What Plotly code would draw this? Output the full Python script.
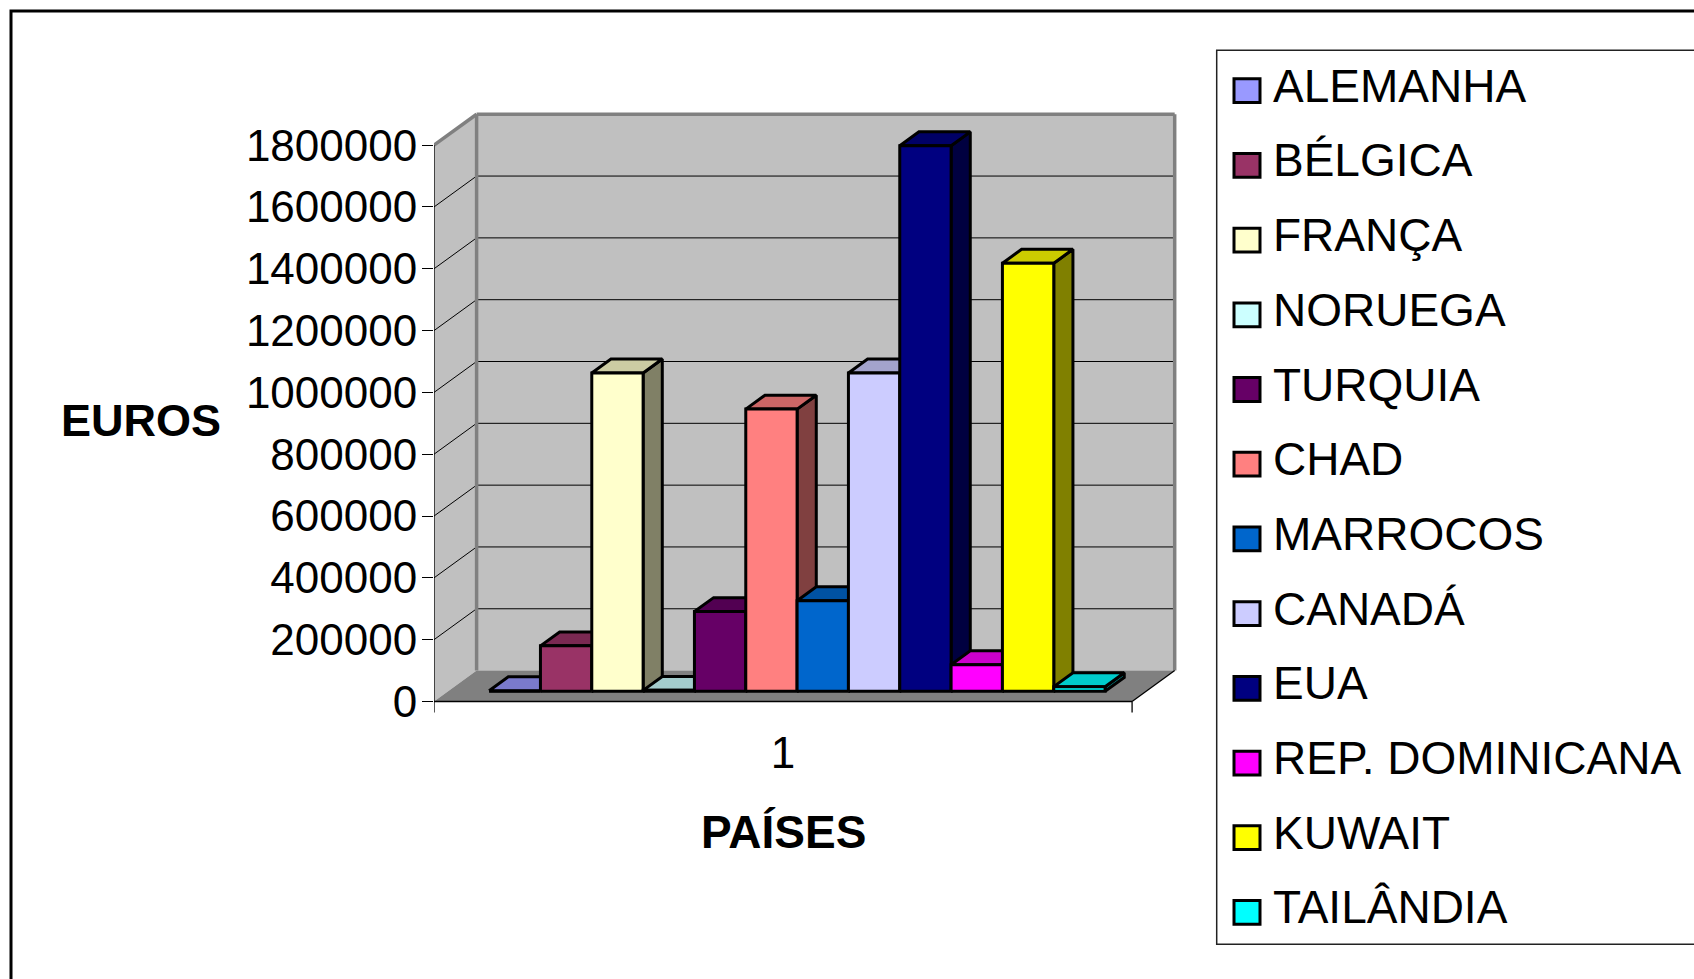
import plotly.graph_objects as go

# ---- data -------------------------------------------------------------
paises = ["ALEMANHA", "BÉLGICA", "FRANÇA", "NORUEGA", "TURQUIA", "CHAD",
          "MARROCOS", "CANADÁ", "EUA", "REP. DOMINICANA", "KUWAIT", "TAILÂNDIA"]
euros = [2000, 147000, 1030000, 3000, 258000, 913000,
         293000, 1030000, 1765000, 86000, 1385000, 15000]
cores = ["#9999FF", "#993366", "#FFFFCC", "#CCFFFF", "#660066", "#FF8080",
         "#0066CC", "#CCCCFF", "#000080", "#FF00FF", "#FFFF00", "#00FFFF"]
y_ticks = [0, 200000, 400000, 600000, 800000, 1000000, 1200000, 1400000, 1600000, 1800000]
categoria = ["1"]

# ---- page / 3-D box geometry -----------------------------------------
W, H = 1694, 979
FONT = "Liberation Sans, Arial, sans-serif"

PX_X0 = 434.0            # pixel of the front-left corner (x = 0)
PX_UNIT = 51.33          # pixels per bar width
PX_Y0 = 708.0            # pixel of the zero level on the front plane
PX_PER_EURO = 561.5 / 1800000

SPAN = 13.6              # front axis length, in bar widths
GAP = 0.8                # space before the first bar
DX, DY = 0.83, 100000    # full depth of the box, projected
FRONT, DEPTH = 0.33, 0.45  # bar depth position / bar depth (fraction of box)
YTOP = y_ticks[-1]

XMAX = SPAN + DX + 0.4
YMIN, YMAX = -50000, 1960000

dom_x = [PX_X0 / W, (PX_X0 + XMAX * PX_UNIT) / W]
bot_px = PX_Y0 - YMIN * PX_PER_EURO
top_px = PX_Y0 - YMAX * PX_PER_EURO
dom_y = [1 - bot_px / H, 1 - top_px / H]


def shade(hexcol, k):
    h = hexcol.lstrip("#")
    r, g, b = (int(h[i:i + 2], 16) for i in (0, 2, 4))
    return "rgb(%d,%d,%d)" % (round(r * k), round(g * k), round(b * k))


def poly(xs, ys, fill):
    return go.Scatter(x=xs + xs[:1], y=ys + ys[:1], mode="lines", fill="toself",
                      fillcolor=fill, line=dict(color="black", width=3),
                      hoverinfo="skip", showlegend=False)


fig = go.Figure()

# ---- 3-D columns: side, top and front faces, left to right ----------
fdx, fdy = FRONT * DX, FRONT * DY
ddx, ddy = DEPTH * DX, DEPTH * DY
for i, (v, c) in enumerate(zip(euros, cores)):
    x0 = GAP + i + fdx
    x1 = x0 + 1
    y0 = fdy
    y1 = y0 + v
    fig.add_trace(poly([x1, x1 + ddx, x1 + ddx, x1],
                       [y0, y0 + ddy, y1 + ddy, y1], shade(c, 0.5)))
    fig.add_trace(poly([x0, x1, x1 + ddx, x0 + ddx],
                       [y1, y1, y1 + ddy, y1 + ddy], shade(c, 0.8)))
    fig.add_trace(poly([x0, x1, x1, x0], [y0, y0, y1, y1], c))

# ---- walls, floor and grid ------------------------------------------
shapes = []
wall = "#C0C0C0"
edge = "#808080"
shapes.append(dict(type="path", xref="x", yref="y", layer="below",
                   path=f"M0,0 L{DX},{DY} L{DX},{YTOP + DY} L0,{YTOP} Z",
                   fillcolor=wall, line=dict(width=0)))
shapes.append(dict(type="rect", xref="x", yref="y", layer="below",
                   x0=DX, x1=SPAN + DX, y0=DY, y1=YTOP + DY,
                   fillcolor=wall, line=dict(width=0)))
shapes.append(dict(type="path", xref="x", yref="y", layer="below",
                   path=f"M0,0 L{SPAN},0 L{SPAN + DX},{DY} L{DX},{DY} Z",
                   fillcolor="#808080", line=dict(width=0)))
for v in y_ticks[1:-1]:
    shapes.append(dict(type="line", xref="x", yref="y", layer="below",
                       x0=0, y0=v, x1=DX, y1=v + DY,
                       line=dict(color="black", width=1)))
    shapes.append(dict(type="line", xref="x", yref="y", layer="below",
                       x0=DX, y0=v + DY, x1=SPAN + DX, y1=v + DY,
                       line=dict(color="black", width=1)))
# grey wall edges
for (xa, ya, xb, yb) in [(0, YTOP, DX, YTOP + DY),
                         (DX, YTOP + DY, SPAN + DX, YTOP + DY),
                         (SPAN + DX, DY, SPAN + DX, YTOP + DY),
                         (DX, DY, DX, YTOP + DY)]:
    shapes.append(dict(type="line", xref="x", yref="y", layer="below",
                       x0=xa, y0=ya, x1=xb, y1=yb,
                       line=dict(color=edge, width=3.5)))
# axis lines and category boundary ticks
tick_e = 11 / PX_PER_EURO
for (xa, ya, xb, yb) in [(0, 0, 0, YTOP),
                         (0, 0, SPAN, 0),
                         (SPAN, 0, SPAN + DX, DY),
                         (0, 0, 0, -tick_e),
                         (SPAN, 0, SPAN, -tick_e)]:
    shapes.append(dict(type="line", xref="x", yref="y", layer="below",
                       x0=xa, y0=ya, x1=xb, y1=yb,
                       line=dict(color="black", width=1.3)))

# ---- legend (drawn in page pixels) ----------------------------------
def px(x):
    return x / W


def py(y):
    return 1 - y / H


shapes.append(dict(type="rect", xref="paper", yref="paper",
                   x0=px(1216.7), x1=px(1760), y0=py(50.7), y1=py(953),
                   line=dict(color="#222222", width=1.5), fillcolor="white",
                   layer="below"))
annotations = []
LEG_Y0, LEG_STEP = 86.5, 75.4
for i, (nome, c) in enumerate(zip(paises, cores)):
    yc = LEG_Y0 + i * LEG_STEP
    shapes.append(dict(type="rect", xref="paper", yref="paper",
                       x0=px(1234), x1=px(1260), y0=py(yc + 17), y1=py(yc - 7),
                       fillcolor=c, line=dict(color="black", width=3)))
    annotations.append(dict(text=nome, xref="paper", yref="paper",
                            x=px(1271), y=py(yc), xanchor="left", yanchor="middle",
                            showarrow=False,
                            font=dict(family=FONT, size=46, color="black")))

# outer chart frame
shapes.append(dict(type="rect", xref="paper", yref="paper",
                   x0=px(11), x1=px(1720), y0=py(11), y1=py(1000),
                   line=dict(color="black", width=3)))

# axis titles
annotations.append(dict(text="<b>EUROS</b>", xref="paper", yref="paper",
                        x=px(141), y=py(424), xanchor="center", yanchor="middle",
                        showarrow=False,
                        font=dict(family=FONT, size=45, color="black")))
annotations.append(dict(text="<b>PAÍSES</b>", xref="x", yref="paper",
                        x=SPAN / 2, y=py(839.5), xanchor="center", yanchor="middle",
                        showarrow=False,
                        font=dict(family=FONT, size=46, color="black")))

fig.update_layout(
    width=W, height=H, autosize=False,
    margin=dict(l=0, r=0, t=0, b=0),
    paper_bgcolor="white", plot_bgcolor="rgba(0,0,0,0)",
    shapes=shapes, annotations=annotations,
    showlegend=False,
    xaxis=dict(domain=dom_x, range=[0, XMAX], showgrid=False, zeroline=False,
               showline=False, tickmode="array", tickvals=[SPAN / 2],
               ticktext=categoria, ticks="", ticklabelstandoff=6,
               tickfont=dict(family=FONT, size=44, color="black"),
               fixedrange=True),
    yaxis=dict(domain=dom_y, range=[YMIN, YMAX], showgrid=False, zeroline=False,
               showline=False, tickmode="array", tickvals=y_ticks,
               ticktext=[str(v) for v in y_ticks], ticks="outside", ticklen=11,
               tickwidth=1.3, tickcolor="black", ticklabelstandoff=-4,
               tickfont=dict(family=FONT, size=44, color="black"),
               fixedrange=True),
)

fig.write_html("out.html")
